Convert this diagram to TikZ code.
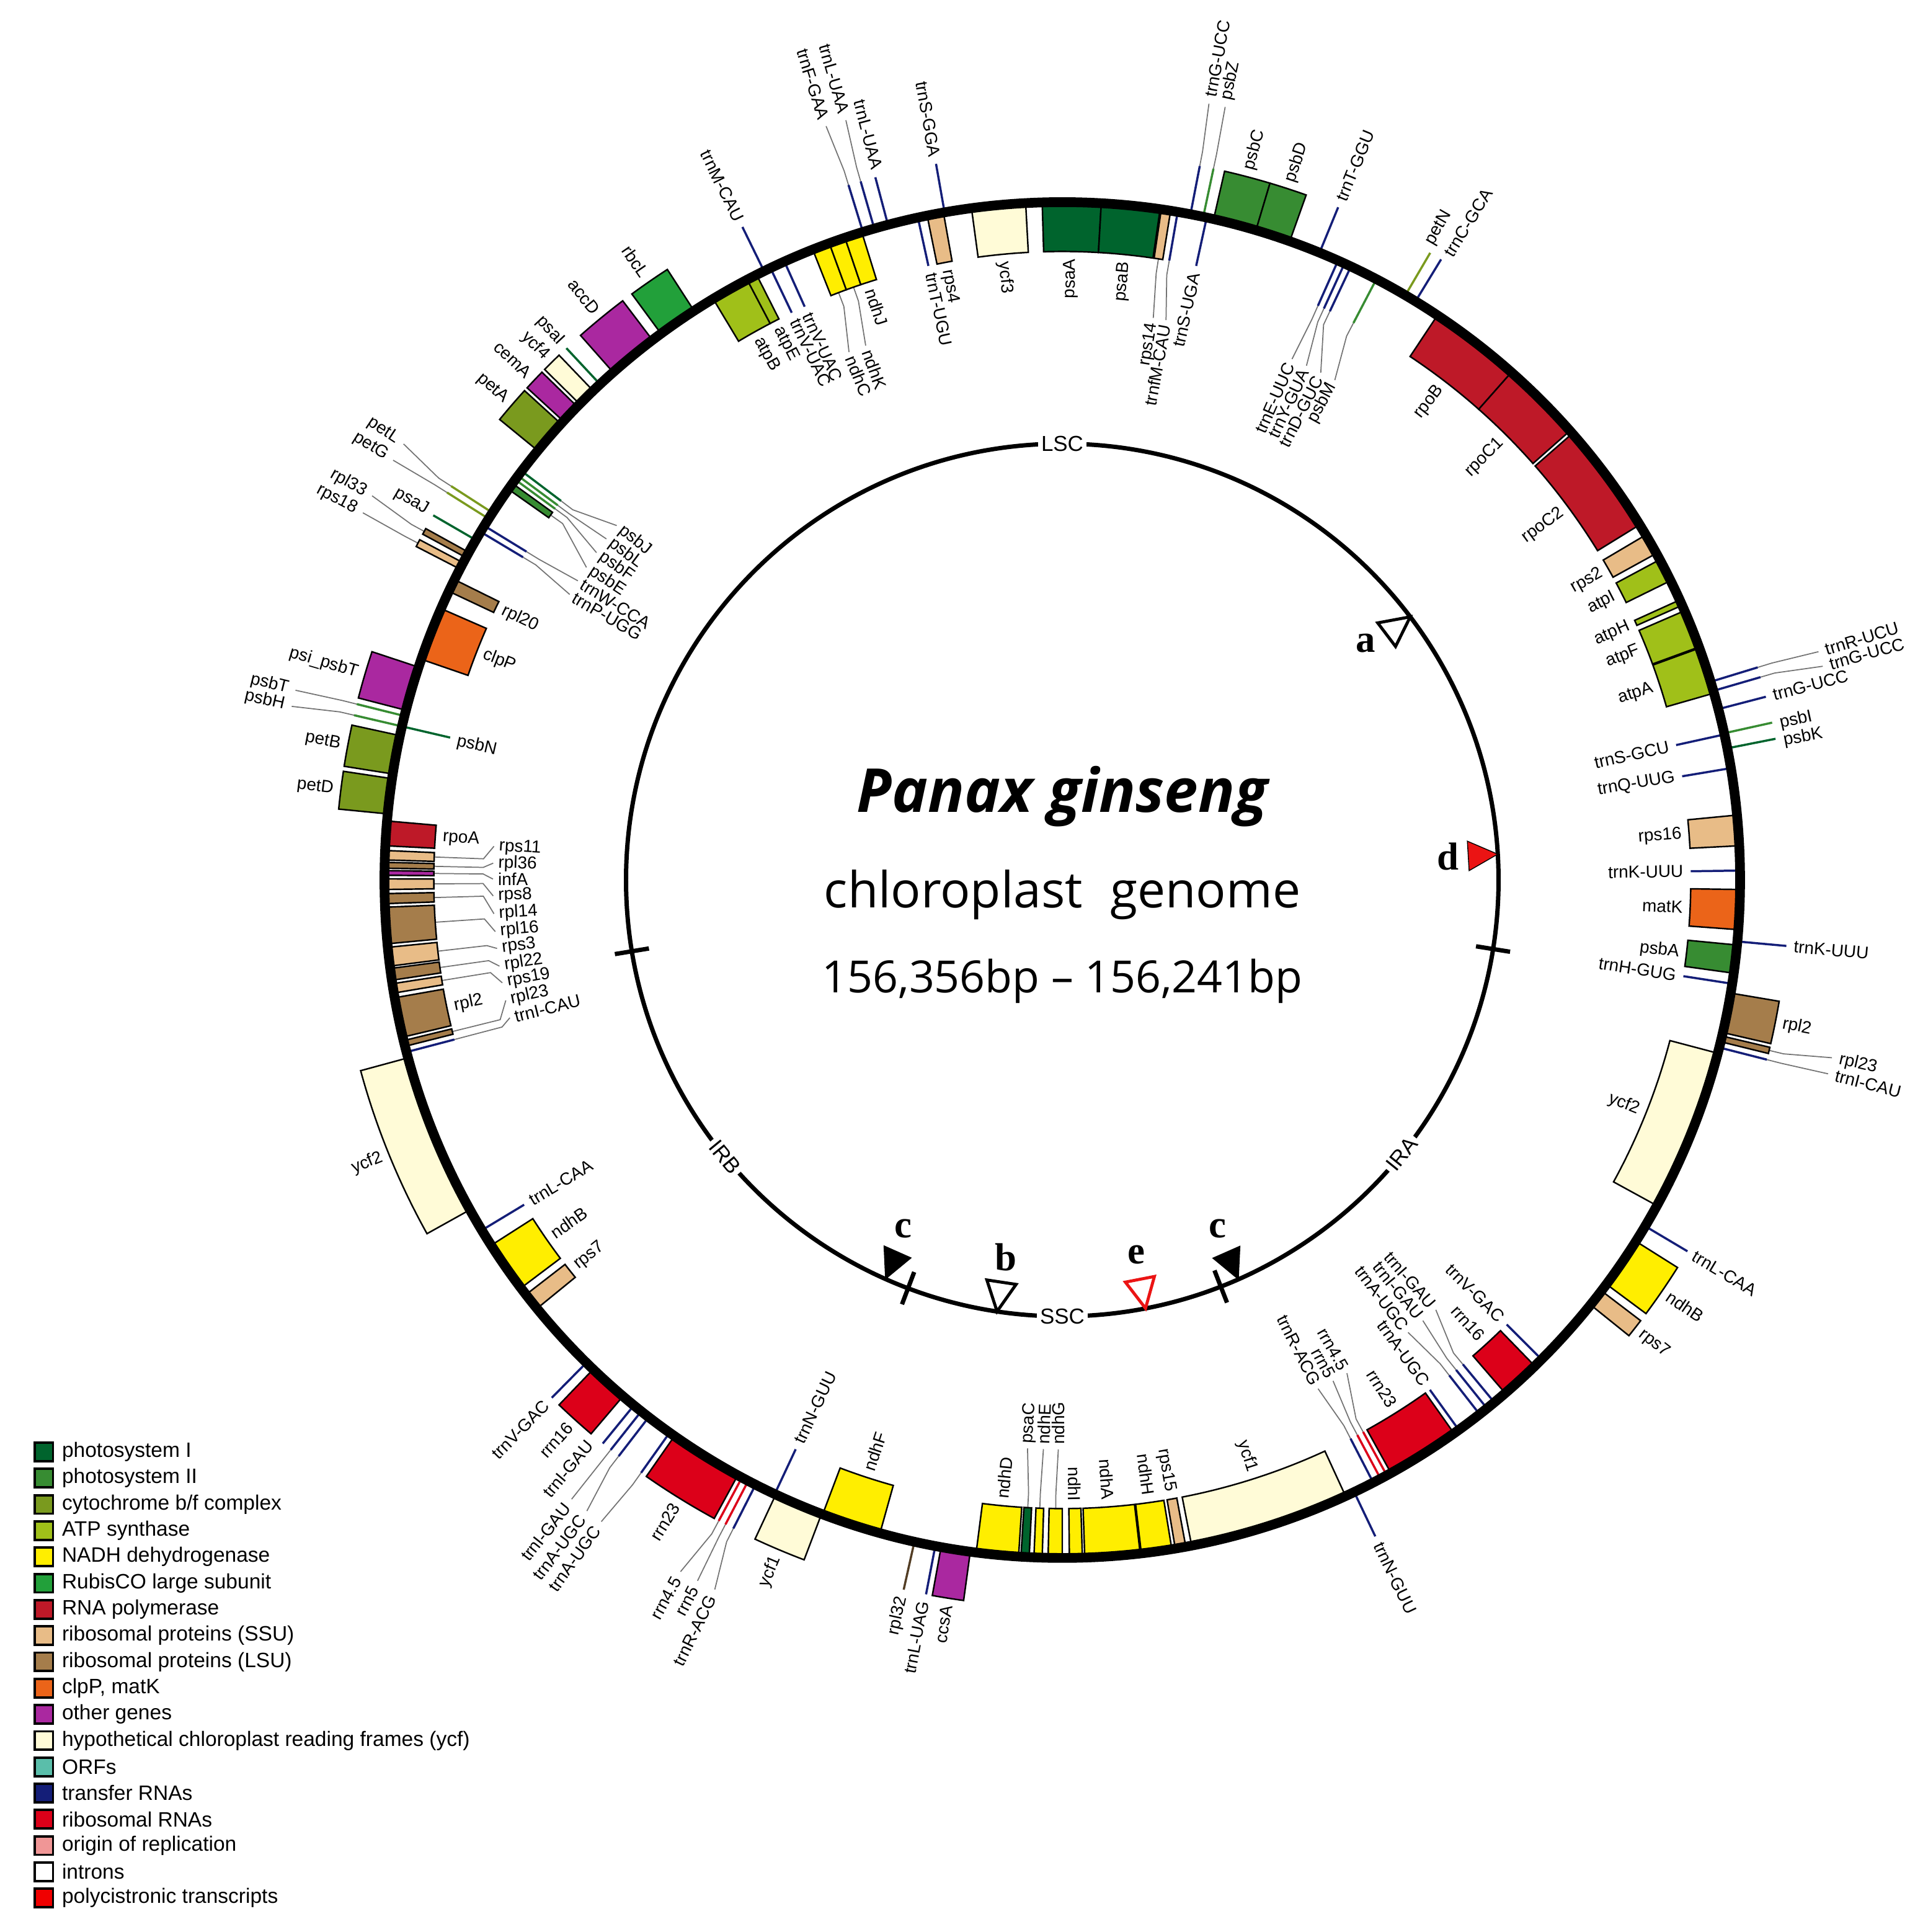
\documentclass[tikz,border=0pt]{standalone}
\usepackage{fontspec}
\setmainfont{Liberation Sans}
\newfontfamily\titlefont{Open Sans}
\newfontfamily\sitefont{Liberation Serif}
\definecolor{psI}{RGB}{0,100,45}
\definecolor{psII}{RGB}{55,140,50}
\definecolor{cyt}{RGB}{122,154,30}
\definecolor{atp}{RGB}{160,192,25}
\definecolor{ndh}{RGB}{255,238,0}
\definecolor{rbc}{RGB}{34,160,58}
\definecolor{rpo}{RGB}{190,25,40}
\definecolor{ssu}{RGB}{232,188,135}
\definecolor{lsu}{RGB}{165,125,75}
\definecolor{clp}{RGB}{235,100,25}
\definecolor{oth}{RGB}{170,40,160}
\definecolor{ycf}{RGB}{255,251,215}
\definecolor{orf}{RGB}{90,190,170}
\definecolor{trna}{RGB}{20,30,120}
\definecolor{rrna}{RGB}{220,0,25}
\definecolor{ori}{RGB}{240,150,150}
\definecolor{intr}{RGB}{255,255,255}
\definecolor{poly}{RGB}{240,0,0}
\definecolor{mred}{RGB}{235,20,20}
\tikzset{
  genebox/.style={draw=black, line width=0.7pt},
  geneline/.style={line width=1pt},
  leadline/.style={draw=black!55, line width=0.5pt},
  glabel/.style={font=\fontsize{8}{9}\selectfont, inner sep=1pt},
  seglab/.style={font=\fontsize{10}{11}\selectfont, fill=white, inner sep=1.5pt},
  sitelab/.style={font=\sitefont\bfseries\fontsize{18}{18}\selectfont, inner sep=0pt},
  legbox/.style={draw=black, line width=1.1pt, minimum size=0.3cm, inner sep=0pt},
  legtext/.style={font=\fontsize{9.6}{10}\selectfont, anchor=west, inner sep=0pt}
}
\newcommand{\gbox}[4]{\filldraw[genebox, fill=#4] ({90-(#1)}:550)
  arc[start angle={90-(#1)}, end angle={90-(#2)}, radius=550] -- ({90-(#2)}:#3)
  arc[start angle={90-(#2)}, end angle={90-(#1)}, radius=#3] -- cycle;}
\newcommand{\gline}[3]{\draw[geneline, #3] ({90-(#1)}:550) -- ({90-(#1)}:#2);}
\newcommand{\glead}[5]{\draw[leadline] ({90-(#1)}:#2) -- ({90-(#1)}:#3) -- ({90-(#4)}:#5);}
\newcommand{\glab}[4]{%
  \pgfmathsetmacro{\lrot}{(#2<180) ? 90-(#2) : 270-(#2)}%
  \pgfmathtruncatemacro{\lsd}{(#2<180)+(#3>550)}%
  \ifnum\lsd=1 \def\lanc{east}\else\def\lanc{west}\fi
  \node[glabel, rotate=\lrot, anchor=\lanc] (#1) at ({90-(#2)}:#3) {#4};}
\newcommand{\sitemark}[2]{\draw[#2, rotate=90-(#1)] (354,0) -- (330,12) -- (330,-12) -- cycle;}

\begin{document}
\begin{tikzpicture}[x=0.02cm,y=0.02cm]
\useasboundingbox (-862,-853.5) rectangle (702,714);

% leader lines
\glead{8.8}{510}{498}{9.2}{462}
\glead{9.8}{510}{498}{10.5}{462}
\glead{10.9}{590}{602}{10.7}{641}
\glead{12.0}{590}{602}{11.9}{641}
\glead{24.0}{510}{498}{23.8}{462}
\glead{24.6}{510}{498}{25.4}{462}
\glead{25.2}{510}{498}{27.0}{462}
\glead{27.6}{510}{498}{28.6}{462}
\glead{73.0}{590}{602}{73.2}{641}
\glead{73.8}{590}{602}{74.3}{641}
\glead{103.55}{590}{602}{103.0}{641}
\glead{104.3}{590}{602}{104.2}{641}
\glead{140.4}{510}{498}{139.0}{462}
\glead{141.2}{510}{498}{140.7}{462}
\glead{142.0}{510}{498}{142.6}{462}
\glead{151.4}{510}{498}{150.0}{462}
\glead{152.0}{510}{498}{151.6}{462}
\glead{152.7}{510}{498}{153.3}{462}
\glead{180.6}{510}{498}{180.4}{462}
\glead{182.05}{510}{498}{181.9}{462}
\glead{183.15}{510}{498}{183.5}{462}
\glead{206.9}{590}{602}{206.1}{641}
\glead{207.6}{590}{602}{207.5}{641}
\glead{208.2}{590}{602}{208.9}{641}
\glead{215.4}{590}{602}{215.7}{641}
\glead{217.6}{590}{602}{217.0}{641}
\glead{218.4}{590}{602}{218.4}{641}
\glead{255.3}{510}{470}{256.0}{462}
\glead{256.05}{510}{470}{257.8}{462}
\glead{260.8}{510}{470}{259.6}{462}
\glead{262.0}{510}{470}{261.3}{462}
\glead{263.5}{510}{470}{263.1}{462}
\glead{266.15}{510}{470}{264.8}{462}
\glead{268.4}{510}{470}{266.6}{462}
\glead{269.65}{510}{470}{268.4}{462}
\glead{270.6}{510}{470}{270.1}{462}
\glead{271.25}{510}{470}{271.7}{462}
\glead{272.1}{510}{470}{273.4}{462}
\glead{283.1}{590}{602}{282.7}{641}
\glead{284.0}{590}{602}{283.9}{641}
\glead{297.6}{590}{602}{297.7}{641}
\glead{298.65}{590}{602}{299.1}{641}
\glead{300.9}{510}{498}{300.1}{462}
\glead{301.5}{510}{498}{301.7}{462}
\glead{302.2}{590}{602}{302.1}{641}
\glead{302.8}{590}{602}{303.5}{641}
\glead{305.5}{510}{498}{303.3}{462}
\glead{306.2}{510}{498}{305.1}{462}
\glead{306.6}{510}{498}{306.8}{462}
\glead{307.1}{510}{498}{308.5}{462}
\glead{339.15}{510}{498}{338.0}{462}
\glead{340.6}{510}{498}{339.8}{462}
\glead{342.9}{590}{602}{342.6}{641}
\glead{343.9}{590}{602}{344.1}{641}

% LSC, right half
\gbox{-1.7}{3.3}{510}{psI}
\gbox{3.3}{8.3}{510}{psI}
\gbox{8.4}{9.2}{510}{ssu}
\gline{9.8}{510}{trna}
\gline{10.9}{590}{trna}
\gline{12.0}{590}{psII}
\gline{12.3}{510}{trna}
\gbox{12.9}{16.6}{590}{psII}
\gbox{16.6}{19.6}{590}{psII}
\gline{22.3}{590}{trna}
\gline{24.0}{510}{trna}
\gline{24.6}{510}{trna}
\gline{25.2}{510}{trna}
\gline{27.6}{510}{psII}
\gline{30.4}{590}{cyt}
\gline{31.4}{590}{trna}
\gbox{33.6}{41.5}{510}{rpo}
\gbox{41.5}{48.5}{510}{rpo}
\gbox{48.8}{58.4}{510}{rpo}
\gbox{59.4}{61.2}{510}{ssu}
\gbox{61.8}{63.8}{510}{atp}
\gbox{65.6}{66.1}{510}{atp}
\gbox{66.6}{69.9}{510}{atp}
\gbox{70.0}{74.0}{510}{atp}
\gline{73.0}{590}{trna}
\gline{73.8}{590}{trna}
\gline{75.4}{590}{trna}
\gline{77.5}{590}{psII}
\gline{78.8}{590}{psI}
\gline{77.6}{510}{trna}
\gline{80.5}{510}{trna}
\gbox{84.5}{87.1}{510}{ssu}
\gline{89.2}{510}{trna}
\gbox{90.8}{94.2}{510}{clp}
\gline{95.2}{590}{trna}
\gbox{95.5}{97.9}{510}{psII}
\gline{98.8}{510}{trna}
% IRa
\gbox{99.6}{103.0}{590}{lsu}
\gbox{103.3}{103.8}{590}{lsu}
\gline{104.3}{590}{trna}
\gbox{104.8}{118.7}{510}{ycf}
\gline{120.7}{590}{trna}
\gbox{122.2}{126.6}{590}{ndh}
\gbox{127.3}{128.8}{590}{ssu}
\gline{135.0}{510}{trna}
\gbox{135.8}{139.2}{510}{rrna}
\gline{140.4}{510}{trna}
\gline{141.2}{510}{trna}
\gline{142.0}{510}{trna}
\gline{144.2}{510}{trna}
\gbox{144.7}{151.0}{510}{rrna}
\gline{151.4}{510}{rrna}
\gline{152.0}{510}{rrna}
\gline{152.7}{510}{trna}
\gline{154.5}{590}{trna}
\gbox{155.3}{169.0}{510}{ycf}
% SSC
\gbox{169.5}{170.4}{510}{ssu}
\gbox{170.7}{173.3}{510}{ndh}
\gbox{173.4}{178.1}{510}{ndh}
\gbox{178.3}{179.4}{510}{ndh}
\gbox{180.0}{181.2}{510}{ndh}
\gbox{181.7}{182.4}{510}{ndh}
\gbox{182.8}{183.5}{510}{psI}
\gbox{183.7}{187.3}{510}{ndh}
\gbox{187.8}{190.3}{590}{oth}
\gline{190.8}{590}{trna}
\gline{192.6}{590}{lsu!50!black}
\gbox{195.6}{200.7}{510}{ndh}
% IRb
\gbox{200.8}{205.0}{590}{ycf}
\gline{205.1}{510}{trna}
\gline{206.9}{590}{trna}
\gline{207.6}{590}{rrna}
\gline{208.2}{590}{rrna}
\gbox{208.6}{214.9}{590}{rrna}
\gline{215.4}{590}{trna}
\gline{217.6}{590}{trna}
\gline{218.4}{590}{trna}
\gline{219.2}{590}{trna}
\gbox{220.4}{223.8}{590}{rrna}
\gline{224.6}{590}{trna}
\gbox{230.8}{232.3}{510}{ssu}
\gbox{233.0}{237.4}{510}{ndh}
\gline{238.9}{510}{trna}
\gbox{240.9}{254.8}{590}{ycf}
\gline{255.3}{510}{trna}
\gbox{255.8}{256.3}{510}{lsu}
\gbox{256.6}{260.0}{510}{lsu}
% LSC, left half
\gbox{260.4}{261.2}{510}{ssu}
\gbox{261.5}{262.5}{510}{lsu}
\gbox{262.7}{264.3}{510}{ssu}
\gbox{264.6}{267.7}{510}{lsu}
\gbox{268.0}{268.85}{510}{lsu}
\gbox{269.2}{270.1}{510}{ssu}
\gbox{270.4}{270.8}{510}{oth}
\gbox{271.0}{271.5}{510}{lsu}
\gbox{271.7}{272.5}{510}{ssu}
\gbox{272.9}{275.0}{510}{rpo}
\gbox{275.6}{278.6}{590}{cyt}
\gbox{279.0}{282.3}{590}{cyt}
\gline{283.1}{590}{psII}
\gline{283.1}{510}{psI}
\gline{284.0}{590}{psII}
\gbox{284.5}{288.3}{590}{oth}
\gbox{289.0}{293.6}{510}{clp}
\gbox{295.2}{296.3}{510}{lsu}
\gbox{297.3}{297.9}{590}{ssu}
\gbox{298.4}{298.9}{590}{lsu}
\gline{300.1}{590}{psI}
\gline{300.9}{510}{trna}
\gline{301.5}{510}{trna}
\gline{302.2}{590}{cyt}
\gline{302.8}{590}{cyt}
\gbox{305.2}{305.8}{510}{psII}
\gline{306.2}{510}{psII}
\gline{306.6}{510}{psII}
\gline{307.1}{510}{psI}
\gbox{309.3}{312.3}{590}{cyt}
\gbox{312.6}{314.3}{590}{oth}
\gbox{314.6}{316.2}{590}{ycf}
\gline{317.0}{590}{psI}
\gbox{318.5}{322.8}{590}{oth}
\gbox{323.7}{327.1}{590}{rbc}
\gbox{329.0}{332.3}{510}{atp}
\gbox{332.3}{333.2}{510}{atp}
\gline{333.9}{590}{trna}
\gline{334.5}{510}{trna}
\gline{335.8}{510}{trna}
\gbox{338.4}{339.9}{510}{ndh}
\gbox{339.9}{341.3}{510}{ndh}
\gbox{341.3}{342.8}{510}{ndh}
\gline{342.9}{590}{trna}
\gline{343.9}{590}{trna}
\gline{345.1}{590}{trna}
\gline{347.7}{510}{trna}
\gbox{348.5}{349.9}{510}{ssu}
\gline{350.0}{590}{trna}
\gbox{352.3}{356.9}{510}{ycf}

% genome ring and region ring
\draw[line width=4.5pt] (0,0) circle[radius=550];
\draw[line width=2pt] (0,0) circle[radius=354];
\foreach \t in {99.1,158.7,200.7,260.6}
  \draw[line width=2pt] ({90-\t}:340) -- ({90-\t}:368);
\node[seglab] (lsc) at (90:354) {LSC};
\node[seglab] (ssc) at (-90:354) {SSC};
\node[seglab, rotate=51.1] (ira) at ({90-128.9}:354) {IRA};
\node[seglab, rotate=-50.6] (irb) at ({90-230.6}:354) {IRB};

% gene labels
\glab{psaA}{0.8}{506}{psaA}
\glab{psaB}{5.8}{506}{psaB}
\glab{rps14}{9.2}{460}{rps14}
\glab{trnfM}{10.5}{460}{trnfM-CAU}
\glab{trnGa}{10.7}{645}{trnG-UCC}
\glab{psbZ}{11.9}{645}{psbZ}
\glab{trnSa}{12.3}{506}{trnS-UGA}
\glab{psbC}{14.75}{594}{psbC}
\glab{psbD}{18.1}{594}{psbD}
\glab{trnTa}{22.3}{594}{trnT-GGU}
\glab{trnE}{23.8}{460}{trnE-UUC}
\glab{trnY}{25.4}{460}{trnY-GUA}
\glab{trnD}{27.0}{460}{trnD-GUC}
\glab{psbM}{28.6}{460}{psbM}
\glab{petN}{30.0}{594}{petN}
\glab{trnC}{31.7}{594}{trnC-GCA}
\glab{rpoB}{37.5}{506}{rpoB}
\glab{rpoC1}{45.0}{506}{rpoC1}
\glab{rpoC2}{53.6}{506}{rpoC2}
\glab{rps2}{60.3}{506}{rps2}
\glab{atpI}{62.8}{506}{atpI}
\glab{atpH}{65.85}{506}{atpH}
\glab{atpF}{68.25}{506}{atpF}
\glab{atpA}{72.0}{506}{atpA}
\glab{trnR}{73.2}{645}{trnR-UCU}
\glab{trnGb}{74.3}{645}{trnG-UCC}
\glab{trnGc}{75.4}{594}{trnG-UCC}
\glab{psbI}{77.7}{594}{psbI}
\glab{psbK}{79.1}{594}{psbK}
\glab{trnSb}{77.6}{506}{trnS-GCU}
\glab{trnQ}{80.5}{506}{trnQ-UUG}
\glab{rps16}{85.8}{506}{rps16}
\glab{trnKa}{89.2}{506}{trnK-UUU}
\glab{matK}{92.5}{506}{matK}
\glab{trnKb}{95.2}{594}{trnK-UUU}
\glab{psbA}{96.7}{506}{psbA}
\glab{trnH}{98.8}{506}{trnH-GUG}
\glab{rpl2a}{101.3}{594}{rpl2}
\glab{rpl23a}{103.0}{645}{rpl23}
\glab{trnIa}{104.2}{645}{trnI-CAU}
\glab{ycf2a}{111.75}{506}{ycf2}
\glab{trnLa}{120.7}{594}{trnL-CAA}
\glab{ndhBa}{124.4}{594}{ndhB}
\glab{rps7a}{128.05}{594}{rps7}
\glab{trnVa}{135.0}{506}{trnV-GAC}
\glab{rrn16a}{137.5}{506}{rrn16}
\glab{trnIGa}{139.0}{460}{trnI-GAU}
\glab{trnIGb}{140.7}{460}{trnI-GAU}
\glab{trnAa}{142.6}{460}{trnA-UGC}
\glab{trnAb}{144.2}{506}{trnA-UGC}
\glab{rrn23a}{147.85}{506}{rrn23}
\glab{rrn45a}{150.0}{460}{rrn4.5}
\glab{rrn5a}{151.6}{460}{rrn5}
\glab{trnRa}{153.3}{460}{trnR-ACG}
\glab{trnNa}{154.5}{594}{trnN-GUU}
\glab{ycf1a}{162.2}{506}{ycf1}
\glab{rps15}{170.0}{506}{rps15}
\glab{ndhH}{172.0}{506}{ndhH}
\glab{ndhA}{175.75}{506}{ndhA}
\glab{ndhI}{178.85}{506}{ndhI}
\glab{ndhG}{180.4}{460}{ndhG}
\glab{ndhE}{181.9}{460}{ndhE}
\glab{psaC}{183.5}{460}{psaC}
\glab{ndhD}{185.5}{506}{ndhD}
\glab{ccsA}{189.05}{594}{ccsA}
\glab{trnLb}{190.9}{594}{trnL-UAG}
\glab{rpl32}{192.6}{594}{rpl32}
\glab{ndhF}{198.15}{506}{ndhF}
\glab{ycf1b}{202.9}{594}{ycf1}
\glab{trnNb}{205.1}{506}{trnN-GUU}
\glab{trnRb}{206.1}{645}{trnR-ACG}
\glab{rrn5b}{207.5}{645}{rrn5}
\glab{rrn45b}{208.9}{645}{rrn4.5}
\glab{rrn23b}{211.75}{594}{rrn23}
\glab{trnAc}{215.7}{645}{trnA-UGC}
\glab{trnAd}{217.0}{645}{trnA-UGC}
\glab{trnIGc}{218.4}{645}{trnI-GAU}
\glab{trnIGd}{220.0}{594}{trnI-GAU}
\glab{rrn16b}{222.1}{594}{rrn16}
\glab{trnVb}{224.6}{594}{trnV-GAC}
\glab{rps7b}{231.55}{506}{rps7}
\glab{ndhBb}{235.2}{506}{ndhB}
\glab{trnLc}{238.9}{506}{trnL-CAA}
\glab{ycf2b}{247.85}{594}{ycf2}
\glab{trnIb}{256.0}{460}{trnI-CAU}
\glab{rpl23b}{257.8}{460}{rpl23}
\glab{rpl2b}{258.3}{506}{rpl2}
\glab{rps19}{259.6}{460}{rps19}
\glab{rpl22}{261.3}{460}{rpl22}
\glab{rps3}{263.1}{460}{rps3}
\glab{rpl16}{264.8}{460}{rpl16}
\glab{rpl14}{266.6}{460}{rpl14}
\glab{rps8}{268.4}{460}{rps8}
\glab{infA}{270.1}{460}{infA}
\glab{rpl36}{271.7}{460}{rpl36}
\glab{rps11}{273.4}{460}{rps11}
\glab{rpoA}{273.95}{506}{rpoA}
\glab{petD}{277.1}{594}{petD}
\glab{petB}{280.65}{594}{petB}
\glab{psbH}{282.7}{645}{psbH}
\glab{psbN}{282.9}{506}{psbN}
\glab{psbT}{283.9}{645}{psbT}
\glab{psipsbT}{286.4}{594}{psi\_psbT}
\glab{clpP}{291.3}{506}{clpP}
\glab{rpl20}{295.75}{506}{rpl20}
\glab{rps18}{297.7}{645}{rps18}
\glab{rpl33}{299.1}{645}{rpl33}
\glab{psaJ}{300.2}{594}{psaJ}
\glab{trnP}{300.1}{460}{trnP-UGG}
\glab{trnW}{301.7}{460}{trnW-CCA}
\glab{petG}{302.1}{645}{petG}
\glab{petL}{303.5}{645}{petL}
\glab{psbE}{303.3}{460}{psbE}
\glab{psbF}{305.1}{460}{psbF}
\glab{psbL}{306.8}{460}{psbL}
\glab{psbJ}{308.5}{460}{psbJ}
\glab{petA}{310.8}{594}{petA}
\glab{cemA}{313.45}{594}{cemA}
\glab{ycf4}{315.4}{594}{ycf4}
\glab{psaI}{317.0}{594}{psaI}
\glab{accD}{320.65}{594}{accD}
\glab{rbcL}{325.4}{594}{rbcL}
\glab{atpB}{330.65}{506}{atpB}
\glab{atpE}{332.75}{506}{atpE}
\glab{trnMa}{333.9}{594}{trnM-CAU}
\glab{trnVUa}{334.5}{506}{trnV-UAC}
\glab{trnVUb}{335.8}{506}{trnV-UAC}
\glab{ndhC}{338.0}{460}{ndhC}
\glab{ndhK}{339.8}{460}{ndhK}
\glab{ndhJ}{342.05}{506}{ndhJ}
\glab{trnF}{342.6}{645}{trnF-GAA}
\glab{trnLUa}{344.1}{645}{trnL-UAA}
\glab{trnLUb}{345.4}{594}{trnL-UAA}
\glab{trnTb}{347.8}{506}{trnT-UGU}
\glab{rps4}{349.3}{506}{rps4}
\glab{trnSc}{350.0}{594}{trnS-GGA}
\glab{ycf3}{354.6}{506}{ycf3}

% marked sites
\sitemark{52.9}{draw=black, fill=white, line width=1.4pt}
\sitemark{86.6}{fill=mred}
\sitemark{156.2}{fill=black}
\sitemark{203.9}{fill=black}
\sitemark{188.6}{draw=black, fill=white, line width=1.4pt}
\sitemark{169.0}{draw=mred, fill=white, line width=1.4pt}
\node[sitelab] (ma) at (246,192) {a};
\node[sitelab] (mb) at (-46,-306) {b};
\node[sitelab] (mc1) at (-129,-283) {c};
\node[sitelab] (mc2) at (126,-283) {c};
\node[sitelab] (md) at (313,19) {d};
\node[sitelab] (me) at (60,-304) {e};

% title
\node[font=\titlefont\bfseries\itshape\fontsize{28}{31}\selectfont, inner sep=0pt] (species) at (0,68) {Panax ginseng};
\node[font=\titlefont\fontsize{23}{27}\selectfont, inner sep=0pt] (kind) at (0,-12) {chloroplast\hspace{0.3em} genome};
\node[font=\titlefont\fontsize{20.5}{24}\selectfont, inner sep=0pt] (size) at (0,-82) {156,356bp – 156,241bp};

% legend
\foreach \c/\t [count=\i from 0] in {psI/photosystem I, psII/photosystem II,
    cyt/{cytochrome b/f complex}, atp/ATP synthase, ndh/NADH dehydrogenase,
    rbc/RubisCO large subunit, rpo/RNA polymerase, ssu/ribosomal proteins (SSU),
    lsu/ribosomal proteins (LSU), clp/{clpP, matK}, oth/other genes,
    ycf/hypothetical chloroplast reading frames (ycf), orf/ORFs, trna/transfer RNAs,
    rrna/ribosomal RNAs, ori/origin of replication, intr/introns,
    poly/polycistronic transcripts} {
  \node[legbox, fill=\c] (key\i) at (-826.5,{-464-21.29*\i}) {};
  \node[legtext] (keytext\i) at (-812,{-464-21.29*\i}) {\t};
}
\end{tikzpicture}
\end{document}
